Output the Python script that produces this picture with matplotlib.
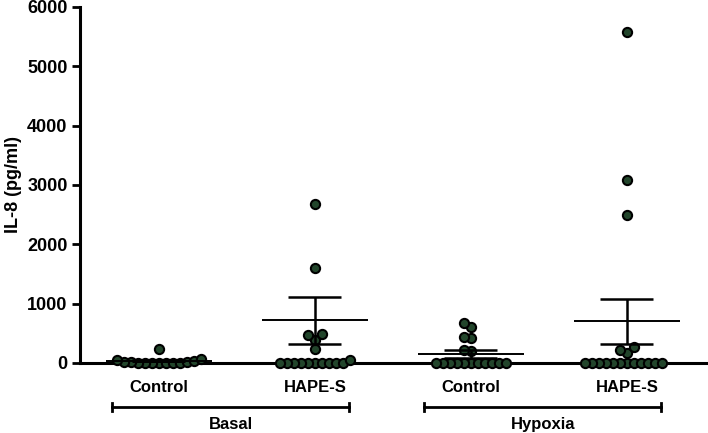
import numpy as np
import matplotlib
matplotlib.use("Agg")
import matplotlib.pyplot as plt
import matplotlib.transforms as mtransforms

plt.rcParams['font.family'] = ['Liberation Sans', 'DejaVu Sans']
plt.rcParams['font.weight'] = 'bold'

# group labels and condition brackets
group_labels = ['Control', 'HAPE-S', 'Control', 'HAPE-S']
conditions = ['Basal', 'Hypoxia']

# individual IL-8 values (pg/ml)
basal_control = [236, 60, 45, 30, 20, 15, 10, 5, 0, 0, 0, 0, 0, 0]
basal_hape = [2680, 1600, 490, 470, 390, 236, 50, 0, 0, 0, 0, 0, 0, 0, 0, 0, 0]
hypoxia_control = [680, 600, 440, 420, 220, 200, 0, 0, 0, 0, 0, 0, 0, 0, 0, 0, 0]
hypoxia_hape = [5570, 3090, 2500, 270, 220, 170, 0, 0, 0, 0, 0, 0, 0, 0, 0, 0, 0, 0]

# mean and SEM as drawn
means = [30, 720, 150, 700]
sems = [18, 395, 65, 380]

groups = [basal_control, basal_hape, hypoxia_control, hypoxia_hape]
positions = np.arange(len(groups))

fig = plt.figure(figsize=(7.08, 4.33), dpi=100)
ax = fig.add_axes([0.113, 0.162, 0.887, 0.822])
ax.set_xlim(-0.506, 3.52)
ax.set_ylim(0, 6000)

# pixel scales used to lay out the swarm
px_x = 156.0
px_y = 356.0 / 6000
spacing = 7.0


def swarm(values):
    placed = []
    offsets = []
    for v in sorted(values):
        y = v * px_y
        k = 0
        while True:
            cands = [0.0] if k == 0 else [-k * spacing, k * spacing]
            ok = None
            for c in cands:
                if all((c - px) ** 2 + (y - py) ** 2 >= spacing ** 2 for px, py in placed):
                    ok = c
                    break
            if ok is not None:
                placed.append((ok, y))
                offsets.append((ok / px_x, v))
                break
            k += 1
    return offsets


for pos, vals in zip(positions, groups):
    pts = swarm(vals)
    xs = [pos + dx for dx, _ in pts]
    ys = [v for _, v in pts]
    ax.scatter(xs, ys, s=44, color='#22452b', edgecolor='black',
               linewidth=1.5, zorder=3, clip_on=False)

for pos, m, s in zip(positions, means, sems):
    ax.hlines(m, pos - 0.34, pos + 0.34, color='black', lw=1.4, zorder=4)
    ax.vlines(pos, m - s, m + s, color='black', lw=1.8, zorder=4)
    ax.hlines([m - s, m + s], pos - 0.17, pos + 0.17, color='black', lw=1.8, zorder=4)

for side in ['top', 'right']:
    ax.spines[side].set_visible(False)
ax.spines['left'].set_linewidth(2.2)
ax.spines['bottom'].set_linewidth(2.2)
ax.spines['bottom'].set_zorder(2)

ax.set_yticks(np.arange(0, 6001, 1000))
ax.tick_params(axis='y', length=6, width=2, labelsize=13, pad=3)
ax.set_xticks(positions)
ax.set_xticklabels(group_labels)
ax.tick_params(axis='x', length=0, labelsize=12, pad=12)
for lab in ax.get_xticklabels() + ax.get_yticklabels():
    lab.set_fontweight('bold')
ax.set_ylabel('IL-8 (pg/ml)', fontsize=13, fontweight='bold', labelpad=4)

# condition brackets beneath the axis
trans = mtransforms.blended_transform_factory(ax.transData, ax.transAxes)
for i, name in enumerate(conditions):
    x0 = positions[2 * i] - 0.30
    x1 = positions[2 * i + 1] + 0.22
    yb = -0.124
    ax.plot([x0, x1], [yb, yb], color='black', lw=2, transform=trans, clip_on=False)
    for xe in (x0, x1):
        ax.plot([xe, xe], [yb - 0.012, yb + 0.012], color='black', lw=2,
                transform=trans, clip_on=False)
    ax.text((x0 + x1) / 2, -0.174, name, transform=trans, ha='center', va='center',
            fontsize=12, fontweight='bold')

fig.savefig('out.png', dpi=100)
